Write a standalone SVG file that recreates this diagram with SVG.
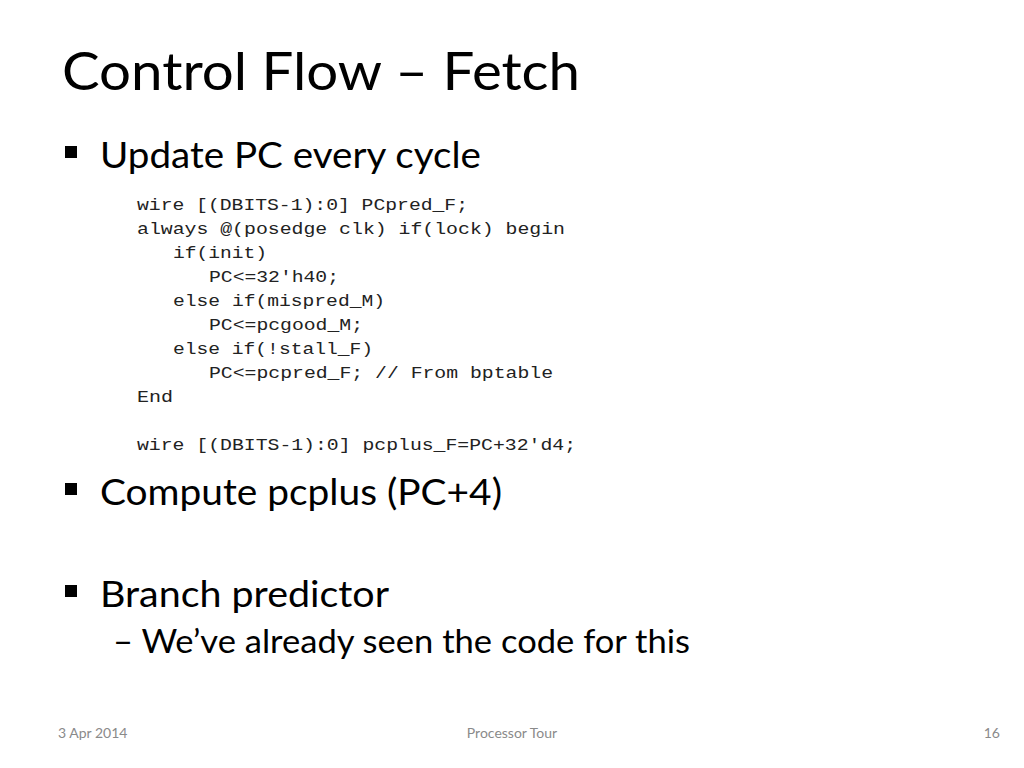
<svg xmlns="http://www.w3.org/2000/svg" width="1024" height="768" viewBox="0 0 1024 768">
<style>
.s{font-family:Lato,"Open Sans",sans-serif;fill:#000}
.c{font-family:"Liberation Mono",monospace;font-size:16px;fill:#222}
.f{font-family:Lato,"Open Sans",sans-serif;font-size:14px;fill:#8a8a8a}
.b{fill:#000}
</style>
<rect width="1024" height="768" fill="#fff"/>
<text class="s" x="62" y="90" font-size="52" textLength="518" lengthAdjust="spacingAndGlyphs">Control Flow – Fetch</text>
<rect class="b" x="65" y="146" width="12" height="12"/>
<text class="s" x="100" y="168" font-size="36" textLength="381" lengthAdjust="spacingAndGlyphs">Update PC every cycle</text>
<g class="c">
<text x="137" y="210" textLength="331" lengthAdjust="spacingAndGlyphs">wire [(DBITS-1):0] PCpred_F;</text>
<text x="137" y="234" textLength="428" lengthAdjust="spacingAndGlyphs">always @(posedge clk) if(lock) begin</text>
<text x="173" y="258" textLength="94" lengthAdjust="spacingAndGlyphs">if(init)</text>
<text x="209" y="282" textLength="130" lengthAdjust="spacingAndGlyphs">PC&lt;=32'h40;</text>
<text x="173" y="306" textLength="212" lengthAdjust="spacingAndGlyphs">else if(mispred_M)</text>
<text x="209" y="330" textLength="154" lengthAdjust="spacingAndGlyphs">PC&lt;=pcgood_M;</text>
<text x="173" y="354" textLength="200" lengthAdjust="spacingAndGlyphs">else if(!stall_F)</text>
<text x="209" y="378" textLength="344" lengthAdjust="spacingAndGlyphs">PC&lt;=pcpred_F; // From bptable</text>
<text x="137" y="402" textLength="36" lengthAdjust="spacingAndGlyphs">End</text>
<text x="137" y="450" textLength="439" lengthAdjust="spacingAndGlyphs">wire [(DBITS-1):0] pcplus_F=PC+32'd4;</text>
</g>
<rect class="b" x="65" y="483" width="12" height="12"/>
<text class="s" x="100" y="505" font-size="36" textLength="402" lengthAdjust="spacingAndGlyphs">Compute pcplus (PC+4)</text>
<rect class="b" x="65" y="585" width="12" height="12"/>
<text class="s" x="100" y="607" font-size="36" textLength="289" lengthAdjust="spacingAndGlyphs">Branch predictor</text>
<text class="s" x="113" y="653" font-size="32" textLength="577" lengthAdjust="spacingAndGlyphs">– We’ve already seen the code for this</text>
<text class="f" x="58" y="738">3 Apr 2014</text>
<text class="f" x="512" y="738" text-anchor="middle">Processor Tour</text>
<text class="f" x="1000" y="738" text-anchor="end">16</text>
</svg>
